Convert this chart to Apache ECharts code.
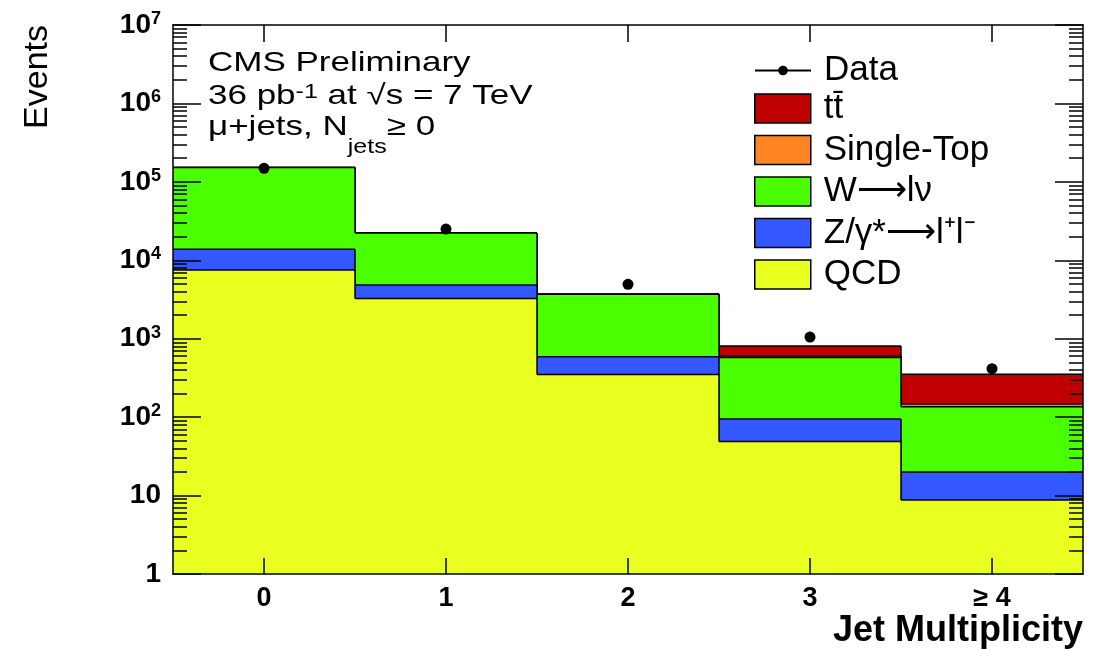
<!DOCTYPE html>
<html>
<head>
<meta charset="utf-8">
<script src="https://cdn.jsdelivr.net/npm/echarts@6/dist/echarts.min.js"></script>
<style>html,body{margin:0;padding:0;background:#fff}#main{width:1098px;height:649px}</style>
</head>
<body>
<div id="main"></div>
<script>
var categories = ['0', '1', '2', '3', '≥ 4'];
// per-process event counts (stacked, bottom to top)
var qcd = [7500, 3250, 350, 49, 8.8];
var zjets = [6300, 1590, 240, 46, 11.2];
var wjets = [138200, 17460, 3090, 480, 116];
var singleTop = [20, 40, 20, 25, 11];
var ttbar = [1, 5, 20, 207, 205];
var dataPoints = [149000, 25000, 4940, 1050, 415];
var yMajor = [1, 10, 100, 1e3, 1e4, 1e5, 1e6, 1e7];

var yMinor = [];
yMajor.slice(0, -1).forEach(function (d) {
  for (var m = 2; m <= 9; m++) yMinor.push(d * m);
});

var FONT = '"Liberation Sans", Arial, sans-serif';
var layers = [qcd, zjets, wjets, singleTop, ttbar];

function cumulative(n) {
  return categories.map(function (c, i) {
    var s = 0;
    for (var k = 0; k <= n; k++) s += layers[k][i];
    return [i, s];
  });
}

function band(color) {
  return function (params, api) {
    var i = params.dataIndex;
    var top = api.coord([i, api.value(1)]);
    var base = api.coord([i, 1]);
    var w = api.size([1, 1])[0];
    var x0 = top[0] - w / 2, x1 = top[0] + w / 2;
    var line = { stroke: '#000', lineWidth: 1.5 };
    var kids = [
      { type: 'rect', shape: { x: x0, y: top[1], width: w, height: base[1] - top[1] }, style: { fill: color } },
      { type: 'line', shape: { x1: x0, y1: top[1], x2: x1, y2: top[1] }, style: line }
    ];
    if (i > 0) {
      var prev = api.coord([i - 1, api.value(1, i - 1)]);
      kids.push({ type: 'line', shape: { x1: x0, y1: prev[1], x2: x0, y2: top[1] }, style: line });
    }
    return { type: 'group', children: kids };
  };
}

function stackSeries(name, n, color) {
  return {
    name: name, type: 'custom', data: cumulative(n), z: 1,
    encode: { x: 0, y: 1 },
    itemStyle: { color: color },
    renderItem: band(color),
    silent: true
  };
}

var tickLine = { color: '#000', width: 1.5 };

var minorTickAxis = function (pos) {
  return {
    type: 'log', logBase: 10, min: 1, max: 1e7, position: pos, z: 10,
    axisLine: { show: false }, splitLine: { show: false },
    axisLabel: { show: false },
    axisTick: { show: true, inside: true, length: 14, customValues: yMinor, lineStyle: tickLine }
  };
};

var chart = echarts.init(document.getElementById('main'));
chart.setOption({
  animation: false,
  backgroundColor: '#fff',
  grid: { left: 173, right: 15, top: 25, bottom: 75, containLabel: false, outerBoundsMode: 'none' },
  xAxis: [{
    type: 'category', data: categories, position: 'bottom', z: 10,
    name: 'Jet Multiplicity', nameLocation: 'end', nameGap: 0, nameMoveOverlap: false,
    nameTextStyle: { fontFamily: FONT, fontSize: 36, fontWeight: 'bold', color: '#000', align: 'right', verticalAlign: 'top', padding: [39, 0, 0, 0] },
    axisLine: { show: true, lineStyle: tickLine },
    axisTick: { show: true, inside: true, alignWithLabel: true, length: 16, lineStyle: tickLine },
    axisLabel: { fontFamily: FONT, fontSize: 27, fontWeight: 'bold', color: '#000', margin: 11 },
    splitLine: { show: false }
  }, {
    type: 'category', data: categories, position: 'top', z: 10,
    axisLine: { show: true, lineStyle: tickLine },
    axisTick: { show: true, inside: true, alignWithLabel: true, length: 17, lineStyle: tickLine },
    axisLabel: { show: false }
  }],
  yAxis: [{
    type: 'log', logBase: 10, min: 1, max: 1e7, position: 'left', z: 10,
    name: 'Events', nameLocation: 'end', nameGap: 0, nameRotate: 90, nameMoveOverlap: false,
    nameTextStyle: { fontFamily: FONT, fontSize: 34, color: '#000', align: 'right', verticalAlign: 'bottom', padding: [0, 0, 118, 0] },
    axisLine: { show: true, lineStyle: tickLine },
    splitLine: { show: false },
    axisTick: { show: true, inside: true, length: 28, customValues: yMajor, lineStyle: tickLine },
    axisLabel: {
      customValues: yMajor, margin: 12,
      formatter: function (v) {
        if (v < 5) return '{b|1}';
        if (v < 50) return '{b|10}';
        return '{b|10}{s|' + Math.round(Math.log10(v)) + '}';
      },
      rich: {
        b: { fontFamily: FONT, fontSize: 28, fontWeight: 'bold', color: '#000', lineHeight: 30 },
        s: { fontFamily: FONT, fontSize: 18, fontWeight: 'bold', color: '#000', lineHeight: 18, verticalAlign: 'top' }
      }
    }
  }, minorTickAxis('left'), {
    type: 'log', logBase: 10, min: 1, max: 1e7, position: 'right', z: 10,
    axisLine: { show: true, lineStyle: tickLine },
    splitLine: { show: false },
    axisLabel: { show: false },
    axisTick: { show: true, inside: true, length: 28, customValues: yMajor, lineStyle: tickLine }
  }, minorTickAxis('right')],
  legend: [{
    data: [{ name: 'Data' }],
    orient: 'vertical', left: 754, top: 53, padding: 0,
    itemWidth: 56, itemHeight: 12, selectedMode: false,
    lineStyle: { color: '#000', width: 2, opacity: 1, type: 'solid' },
    textStyle: { fontFamily: FONT, fontSize: 35, color: '#000', lineHeight: 30, padding: [0, 0, 0, 8] }
  }, {
    data: ['tt̄', 'Single-Top', 'W⟶lν', 'Z/γ*⟶l⁺l⁻', 'QCD'],
    orient: 'vertical', left: 754, top: 91, padding: 0,
    itemWidth: 56, itemHeight: 29, itemGap: 6.5, icon: 'rect', selectedMode: false,
    itemStyle: { borderColor: '#000', borderWidth: 1.5 },
    textStyle: { fontFamily: FONT, fontSize: 35, color: '#000', lineHeight: 29, padding: [0, 0, 0, 8] }
  }],
  graphic: [{
    type: 'group', x: 208, y: 0, scaleX: 1.25,
    children: [{
      type: 'text', x: 0, y: 63,
      style: { text: 'CMS Preliminary', font: '28px ' + FONT, fill: '#000', verticalAlign: 'middle' }
    }, {
      type: 'text', x: 0, y: 96,
      style: {
        text: '36 pb{sup|-1} at √s = 7 TeV', font: '28px ' + FONT, fill: '#000', verticalAlign: 'middle',
        rich: { sup: { fontSize: 20, fontFamily: FONT, verticalAlign: 'top', lineHeight: 17 } }
      }
    }, {
      type: 'text', x: 0, y: 127,
      style: {
        text: 'μ+jets, N{sub|jets}≥ 0', font: '28px ' + FONT, fill: '#000', verticalAlign: 'middle',
        rich: { sub: { fontSize: 20, fontFamily: FONT, verticalAlign: 'bottom', lineHeight: 19, padding: [0, 0, -16, 0] } }
      }
    }]
  }],
  series: [
    stackSeries('tt̄', 4, '#c00000'),
    stackSeries('Single-Top', 3, '#ff8522'),
    stackSeries('W⟶lν', 2, '#4aff00'),
    stackSeries('Z/γ*⟶l⁺l⁻', 1, '#3358ff'),
    stackSeries('QCD', 0, '#e8ff1f'),
    {
      name: 'Data', type: 'line', data: dataPoints, z: 11,
      symbol: 'circle', symbolSize: 11, showSymbol: true,
      lineStyle: { width: 0 },
      itemStyle: { color: '#000' }
    }
  ]
});
</script>
</body>
</html>
